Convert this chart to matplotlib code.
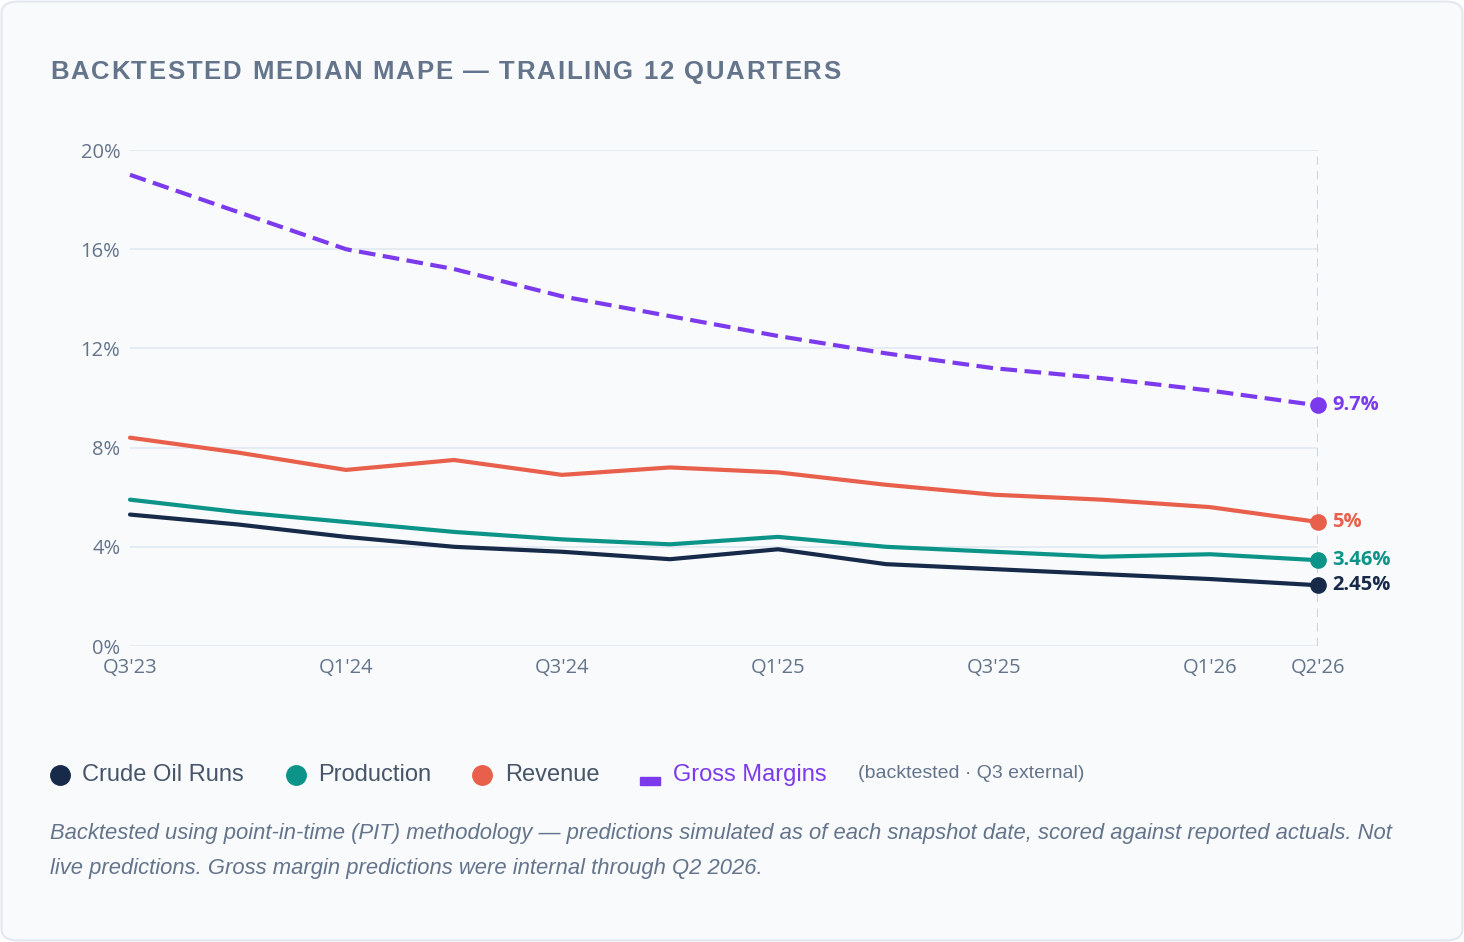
import numpy as np
import matplotlib.pyplot as plt
from matplotlib.lines import Line2D
from matplotlib.patches import FancyBboxPatch, Rectangle

quarters = ["Q3'23", "Q4'23", "Q1'24", "Q2'24", "Q3'24", "Q4'24",
            "Q1'25", "Q2'25", "Q3'25", "Q4'25", "Q1'26", "Q2'26"]
crude = [5.3, 4.9, 4.4, 4.0, 3.8, 3.5, 3.9, 3.3, 3.1, 2.9, 2.7, 2.45]
production = [5.9, 5.4, 5.0, 4.6, 4.3, 4.1, 4.4, 4.0, 3.8, 3.6, 3.7, 3.46]
revenue = [8.4, 7.8, 7.1, 7.5, 6.9, 7.2, 7.0, 6.5, 6.1, 5.9, 5.6, 5.0]
gross = [19.0, 17.5, 16.0, 15.2, 14.1, 13.3, 12.5, 11.8, 11.2, 10.8, 10.3, 9.7]
end_labels = ["2.45%", "3.46%", "5%", "9.7%"]
tick_quarters = ["Q3'23", "Q1'24", "Q3'24", "Q1'25", "Q3'25", "Q1'26", "Q2'26"]
yticks = [0, 4, 8, 12, 16, 20]

C_CRUDE = '#172a4a'
C_PROD = '#0d9488'
C_REV = '#e8604c'
C_GROSS = '#7c3aed'
GRAY = '#64748b'

W, H = 1464, 942
fig = plt.figure(figsize=(W / 100, H / 100), dpi=100)
fig.patch.set_facecolor('white')
card = FancyBboxPatch((1.5 / W, 1.5 / H), (W - 3) / W, (H - 3) / H,
                      boxstyle='round,pad=0,rounding_size=0.012',
                      transform=fig.transFigure, facecolor='#f8fafc',
                      edgecolor='#e2e8f0', linewidth=1.5, zorder=-5)
fig.patches.append(card)

ax = fig.add_axes([130 / W, 1 - 646 / H, (1318 - 130) / W, (646 - 150) / H])
ax.set_facecolor('none')

x = np.arange(len(quarters))
series = [(crude, C_CRUDE, '-'), (production, C_PROD, '-'),
          (revenue, C_REV, '-'), (gross, C_GROSS, '--')]
for (vals, col, ls), lab in zip(series, end_labels):
    line, = ax.plot(x, vals, color=col, lw=3, ls=ls, solid_capstyle='round',
                    clip_on=False, zorder=3)
    if ls == '--':
        line.set_dashes((4.0, 1.8))
    ax.plot(x[-1], vals[-1], 'o', color=col, ms=11, clip_on=False, zorder=4)
    ax.annotate(lab, (x[-1], vals[-1]), xytext=(10, 0), textcoords='offset points',
                va='center', ha='left', color=col, fontsize=14.5,
                fontweight='bold', family='Open Sans')

# marker line at the latest quarter
ax.axvline(x[-1], color='#cbd5e1', lw=1.5, ls=(0, (4, 3)), zorder=1)

ax.set_xlim(0, len(quarters) - 1)
ax.set_ylim(0, 20)
ax.set_yticks(yticks)
ax.set_yticklabels([f'{v}%' for v in yticks])
ax.set_xticks([quarters.index(q) for q in tick_quarters])
ax.set_xticklabels(tick_quarters)
ax.grid(axis='y', color='#e2e8f0', lw=1.2)
ax.set_axisbelow(True)
for s in ax.spines.values():
    s.set_visible(False)
ax.tick_params(length=0, colors=GRAY, labelsize=14.5)
ax.tick_params(axis='y', pad=7)
ax.tick_params(axis='x', pad=9)
for t in ax.get_xticklabels() + ax.get_yticklabels():
    t.set_family('Open Sans')

# title with letter spacing, drawn char by char
title = 'BACKTESTED MEDIAN MAPE — TRAILING 12 QUARTERS'
renderer = fig.canvas.get_renderer()
tx = 50.0
for ch in title:
    t = fig.text(tx / W, 1 - 72 / H, ch, family='Liberation Sans', fontweight='bold',
                 fontsize=18.5, color=GRAY, va='center', ha='left')
    if ch == ' ':
        t_w = fig.text(0, 0, 'a a', family='Liberation Sans', fontweight='bold',
                       fontsize=18.5)
        t_a = fig.text(0, 0, 'aa', family='Liberation Sans', fontweight='bold',
                       fontsize=18.5)
        w = (t_w.get_window_extent(renderer).width
             - t_a.get_window_extent(renderer).width)
        t_w.remove()
        t_a.remove()
    else:
        w = t.get_window_extent(renderer).width
    tx += w + 1.7

# legend
ly = 1 - 775 / H
legend_items = [('Crude Oil Runs', C_CRUDE, 60, 82),
                ('Production', C_PROD, 296, 318),
                ('Revenue', C_REV, 482, 505)]
for name, col, mx, lx in legend_items:
    fig.add_artist(Line2D([mx / W], [ly], marker='o', ms=14, color=col,
                          ls='none', transform=fig.transFigure))
    fig.text(lx / W, ly, name, family='Liberation Sans', fontsize=17,
             color='#475569', va='center', ha='left')
fig.add_artist(Rectangle((640 / W, 1 - 785 / H), 20 / W, 8 / H,
                         transform=fig.transFigure, color=C_GROSS))
fig.text(673 / W, ly, 'Gross Margins', family='Liberation Sans', fontsize=17,
         color=C_GROSS, va='center', ha='left')
fig.text(858 / W, ly + 1 / H, '(backtested · Q3 external)', family='Liberation Sans',
         fontsize=14, color=GRAY, va='center', ha='left')

note = ('Backtested using point-in-time (PIT) methodology — predictions simulated as of '
        'each snapshot date, scored against reported actuals. Not\n'
        'live predictions. Gross margin predictions were internal through Q2 2026.')
fig.text(50 / W, 1 - 823 / H, note, family='Liberation Sans', style='italic',
         fontsize=15.8, color=GRAY, va='top', ha='left', linespacing=1.9)

fig.savefig('out.png', dpi=100, facecolor='white')
